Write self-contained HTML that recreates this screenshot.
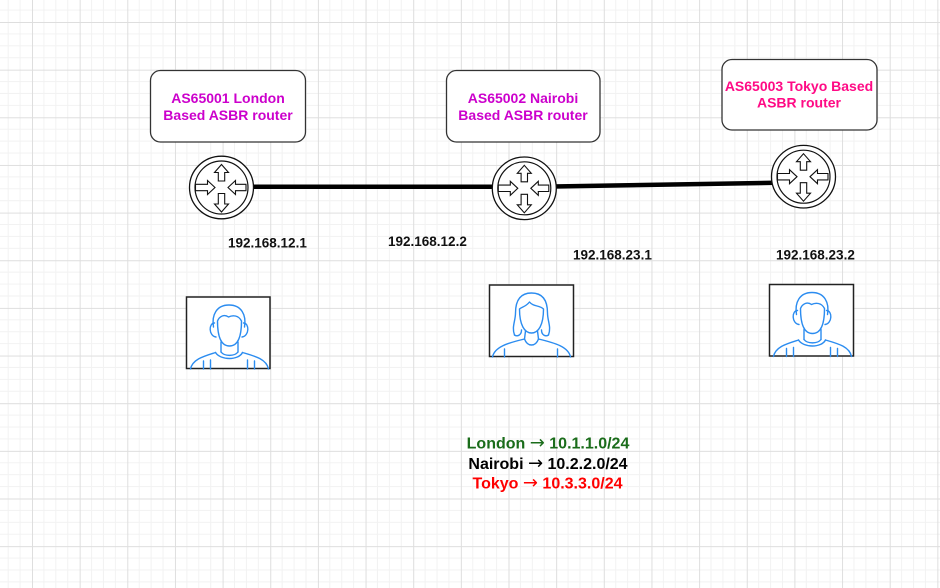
<!DOCTYPE html>
<html>
<head>
<meta charset="utf-8">
<style>
  html,body{margin:0;padding:0;background:#fff;}
  svg{display:block;}
  text{font-family:"Liberation Sans",Arial,sans-serif;font-weight:bold;}
  .arr{font-family:"DejaVu Sans",sans-serif;font-weight:normal;}
</style>
</head>
<body>
<svg width="940" height="588" viewBox="0 0 940 588" xmlns="http://www.w3.org/2000/svg">
  <defs>
    <pattern id="grid" x="32" y="22" width="47.65" height="47.65" patternUnits="userSpaceOnUse">
      <path d="M11.91,0 V47.65 M23.83,0 V47.65 M35.74,0 V47.65 M0,11.91 H47.65 M0,23.83 H47.65 M0,35.74 H47.65" stroke="#f2f2f2" stroke-width="1" fill="none"/>
      <path d="M0.5,0 V47.65 M0,0.5 H47.65" stroke="#dedede" stroke-width="1" fill="none"/>
    </pattern>
    <g id="router">
      <ellipse cx="0" cy="0" rx="32" ry="31.3" fill="#fff" stroke="#111" stroke-width="1.3"/>
      <circle cx="0" cy="0" r="26.5" fill="#fff" stroke="#111" stroke-width="1.2"/>
      <g fill="#fff" stroke="#111" stroke-width="1.1" stroke-linejoin="miter">
        <path d="M0,-23 L7,-15 L3.2,-15 L3.2,-6.5 L-3.2,-6.5 L-3.2,-15 L-7,-15 Z"/>
        <path d="M0,24.5 L7,16.5 L3.2,16.5 L3.2,6 L-3.2,6 L-3.2,16.5 L-7,16.5 Z"/>
        <path d="M-6.5,0 L-14,-7 L-14,-3.2 L-26,-3.2 L-26,3.2 L-14,3.2 L-14,7 Z"/>
        <path d="M6.5,0 L14,-7 L14,-3.2 L24.5,-3.2 L24.5,3.2 L14,3.2 L14,7 Z"/>
      </g>
    </g>
    <g id="man" fill="none" stroke="#2b8cf0" stroke-width="1.4" stroke-linecap="round" stroke-linejoin="round">
      <path d="M27,30 C25,18 30,8 42.5,8 C55,8 60,18 58,30"/>
      <path d="M31,24 C31,42 36,49 43,49 C50,49 55,42 55,24 C52,18 46,18 42,20 C38,17 33,19 31,24 Z"/>
      <path d="M28,26 C22,26 22,39 29.5,40 M57,26 C63,26 63,39 55.5,40"/>
      <path d="M34.5,45 L34.5,55 M51.5,45 L51.5,55"/>
      <path d="M29,55.5 C34,63.5 52,63.5 56,55.5"/>
      <path d="M34.5,55 C38,59.5 48,59.5 51.5,55"/>
      <path d="M4,72 C6,62 18,59 29,55.5 M56,55.5 C68,59 80,62 82,72"/>
      <path d="M17,64 L17,72 M24,63 L24,72 M61,63 L61,72 M68,64 L68,72"/>
    </g>
    <g id="woman" fill="none" stroke="#2b8cf0" stroke-width="1.4" stroke-linecap="round" stroke-linejoin="round">
      <path d="M25,50 C22,42 26,36 26,28 C26,14 32,8 42,8 C52,8 58,14 58,28 C58,36 62,42 59,50 C56,52 52,50 52,45"/>
      <path d="M25,50 C28,52 32,50 32,45"/>
      <path d="M30,24 C30,40 35,48 42,48 C49,48 54,40 54,24 C50,20 44,22 40,17 C36,22 32,22 30,24 Z"/>
      <path d="M36,46 L35,54 M48,46 L49,54"/>
      <path d="M3,72 C5,62 18,58 35,54 C38,62 46,62 49,54 C66,58 79,62 81,72"/>
      <path d="M15,64 L15,72 M68,64 L68,72"/>
    </g>
  </defs>

  <rect x="0" y="0" width="940" height="588" fill="#fff"/>
  <rect x="0" y="0" width="940" height="588" fill="url(#grid)"/>

  <!-- connectors -->
  <line x1="250" y1="186.7" x2="496" y2="186.7" stroke="#000" stroke-width="4.5"/>
  <line x1="553" y1="186.5" x2="775" y2="182.8" stroke="#000" stroke-width="4.5"/>

  <!-- label boxes -->
  <rect x="150.5" y="70.5" width="155" height="71.5" rx="10" ry="10" fill="#fff" stroke="#333" stroke-width="1.3"/>
  <text x="228" y="103" font-size="14" fill="#cc00cc" text-anchor="middle">AS65001 London</text>
  <text x="228" y="120" font-size="14" fill="#cc00cc" text-anchor="middle">Based ASBR router</text>

  <rect x="446.5" y="70.5" width="153.5" height="71.5" rx="10" ry="10" fill="#fff" stroke="#333" stroke-width="1.3"/>
  <text x="523" y="103" font-size="14" fill="#cc00cc" text-anchor="middle">AS65002 Nairobi</text>
  <text x="523" y="120" font-size="14" fill="#cc00cc" text-anchor="middle">Based ASBR router</text>

  <rect x="722" y="59.5" width="155" height="70.5" rx="10" ry="10" fill="#fff" stroke="#333" stroke-width="1.3"/>
  <text x="799" y="91" font-size="14" fill="#ff0a85" text-anchor="middle">AS65003 Tokyo Based</text>
  <text x="799" y="107.5" font-size="14" fill="#ff0a85" text-anchor="middle">ASBR router</text>

  <!-- routers -->
  <use href="#router" x="221.5" y="187.5"/>
  <use href="#router" x="524.3" y="188.3"/>
  <use href="#router" x="803.5" y="176.7"/>

  <!-- IP labels -->
  <text x="228" y="247.5" font-size="13.5" fill="#111">192.168.12.1</text>
  <text x="388" y="246" font-size="13.5" fill="#111">192.168.12.2</text>
  <text x="573" y="259.5" font-size="13.5" fill="#111">192.168.23.1</text>
  <text x="776" y="259.5" font-size="13.5" fill="#111">192.168.23.2</text>

  <!-- person boxes -->
  <rect x="186.5" y="297" width="83.5" height="71.5" fill="#fff" stroke="#222" stroke-width="1.5"/>
  <use href="#man" x="186.5" y="297"/>
  <rect x="489.5" y="285" width="84" height="71.5" fill="#fff" stroke="#222" stroke-width="1.5"/>
  <use href="#woman" x="489.5" y="285"/>
  <rect x="769.5" y="284.5" width="84" height="71.5" fill="#fff" stroke="#222" stroke-width="1.5"/>
  <use href="#man" x="769.5" y="284.5"/>

  <!-- legend -->
  <text x="548" y="448.5" font-size="16" fill="#1a6c1a" text-anchor="middle">London <tspan class="arr" font-size="18">→</tspan> 10.1.1.0/24</text>
  <text x="548" y="469" font-size="16" fill="#000" text-anchor="middle">Nairobi <tspan class="arr" font-size="18">→</tspan> 10.2.2.0/24</text>
  <text x="547.5" y="488.5" font-size="16" fill="#ff0000" text-anchor="middle">Tokyo <tspan class="arr" font-size="18">→</tspan> 10.3.3.0/24</text>
</svg>
</body>
</html>
